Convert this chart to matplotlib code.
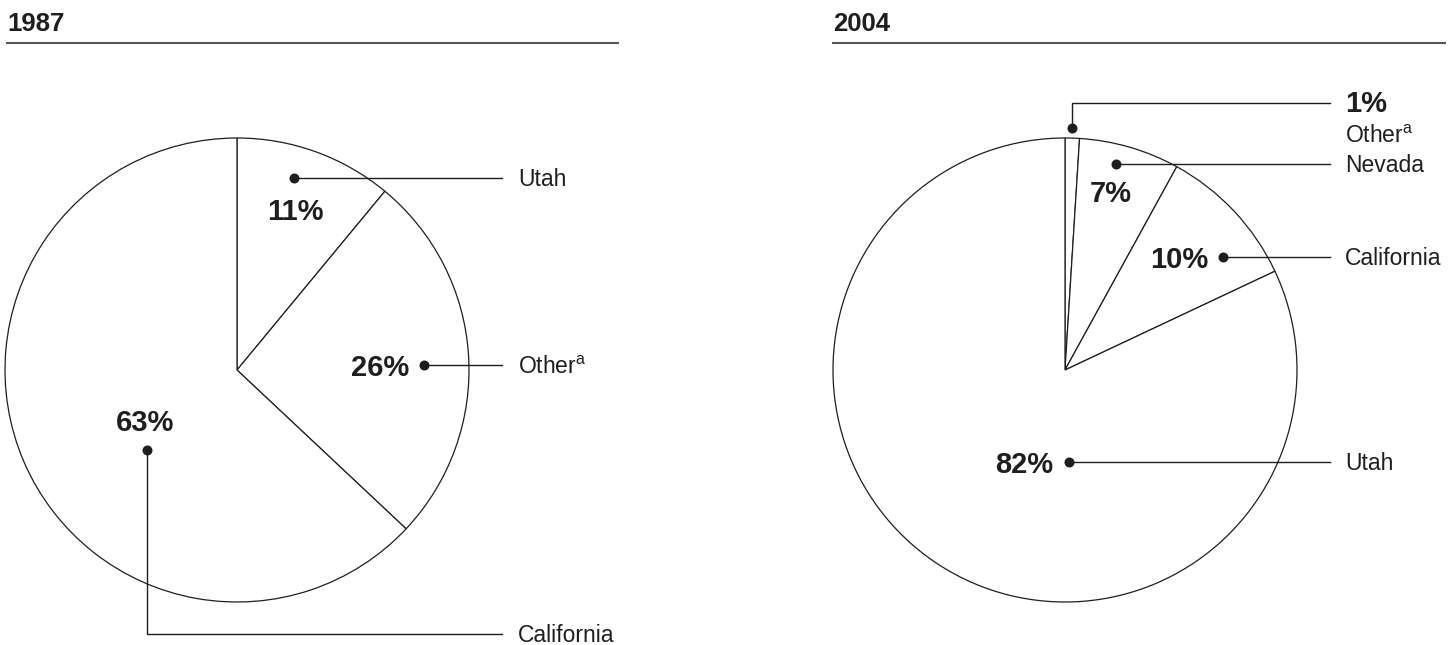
import matplotlib
matplotlib.use("Agg")
import matplotlib.pyplot as plt

# data
YEARS = ["1987", "2004"]

LABELS_1987 = ["Utah", "Other$^{\\mathrm{a}}$", "California"]
SHARES_1987 = [11, 26, 63]

LABELS_2004 = ["Other$^{\\mathrm{a}}$", "Nevada", "California", "Utah"]
SHARES_2004 = [1, 7, 10, 82]

# canvas in pixel units (y measured from the top, flipped below)
W, H = 1448, 645
INK = "#1e1e1e"

plt.rcParams["font.family"] = ["Liberation Sans", "DejaVu Sans"]
plt.rcParams["mathtext.fontset"] = "custom"
plt.rcParams["mathtext.rm"] = "Liberation Sans"

fig = plt.figure(figsize=(W / 100, H / 100), dpi=100)
ax = fig.add_axes([0, 0, 1, 1])


def Y(py):
    return H - py


# panel layout: title x, rule extent, pie centre
PANELS = [
    dict(title_x=7, rule=(6, 619), center=(237, 370)),
    dict(title_x=833, rule=(832, 1446), center=(1065, 370)),
]
RADIUS = 232

for year, panel, shares in zip(YEARS, PANELS, [SHARES_1987, SHARES_2004]):
    ax.text(panel["title_x"], Y(31), year, fontsize=18.5, fontweight="bold",
            color=INK, ha="left", va="baseline")
    ax.plot(panel["rule"], [Y(43), Y(43)], color="#555555", lw=1.5,
            solid_capstyle="butt")
    cx, cy = panel["center"]
    ax.pie(shares, center=(cx, Y(cy)), radius=RADIUS, startangle=90,
           counterclock=False, colors=["white"] * len(shares),
           wedgeprops=dict(edgecolor=INK, linewidth=0.9))


def callout(path, pct, pct_xy, name, name_x, name_base):
    xs = [p[0] for p in path]
    ys = [Y(p[1]) for p in path]
    ax.plot(xs, ys, color=INK, lw=1.0, solid_joinstyle="miter")
    ax.plot(xs[0], ys[0], "o", color=INK, ms=7.2, mec="none")
    if pct is not None:
        ax.text(pct_xy[0], Y(pct_xy[1]), f"{pct}%", fontsize=21,
                fontweight="bold", color=INK, ha="center", va="baseline")
    ax.text(name_x, Y(name_base), name, fontsize=16.5, color=INK,
            ha="left", va="baseline")


# 1987 callouts
callout([(294, 178), (502, 178)], SHARES_1987[0], (295, 220),
        LABELS_1987[0], 518, 186)
callout([(424, 365), (502, 365)], SHARES_1987[1], (380, 376),
        LABELS_1987[1], 518, 374)
callout([(147, 450), (147, 634), (502, 634)], SHARES_1987[2], (145, 431),
        LABELS_1987[2], 518, 642)

# 2004 callouts
callout([(1072, 128), (1072, 103), (1330, 103)], None, None,
        LABELS_2004[0], 1345, 143)
ax.text(1345, Y(112), f"{SHARES_2004[0]}%", fontsize=21, fontweight="bold",
        color=INK, ha="left", va="baseline")
callout([(1116, 164), (1330, 164)], SHARES_2004[1], (1111, 202),
        LABELS_2004[1], 1345, 172)
callout([(1223, 257), (1330, 257)], SHARES_2004[2], (1179, 268),
        LABELS_2004[2], 1345, 265)
callout([(1069, 462), (1330, 462)], SHARES_2004[3], (1024, 473),
        LABELS_2004[3], 1345, 470)

ax.set_xlim(0, W)
ax.set_ylim(0, H)
ax.set_aspect("auto")
ax.axis("off")

fig.savefig("out.png", dpi=100, facecolor="white")
